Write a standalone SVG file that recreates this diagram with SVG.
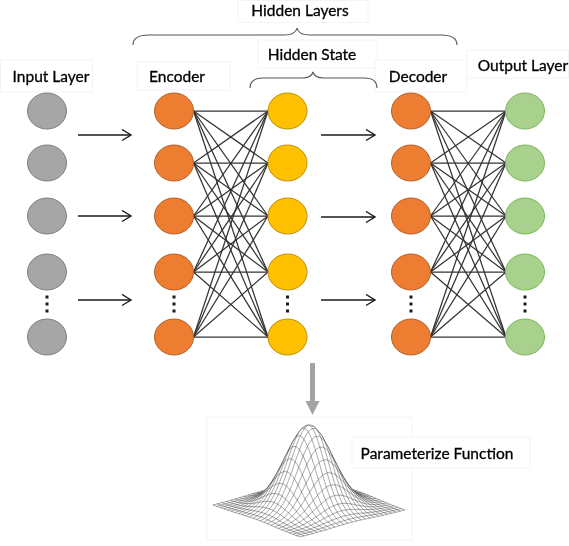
<svg xmlns="http://www.w3.org/2000/svg" xmlns:xlink="http://www.w3.org/1999/xlink" width="569" height="546" viewBox="0 0 569 546">
  <style>
    .lbl { font-family: Lato, "Liberation Sans", sans-serif; font-size: 15.5px; fill: #000; stroke: #000; stroke-width: 0.3; text-anchor: middle; }
    .box { fill: #fff; stroke: #f4f4f4; stroke-width: 1; }
    .in { fill: #a6a6a6; stroke: #808080; stroke-width: 1; }
    .enc { fill: #ed7d31; stroke: #b4612a; stroke-width: 1; }
    .hid { fill: #ffc000; stroke: #bf9000; stroke-width: 1; }
    .out { fill: #a9d18e; stroke: #7cb85a; stroke-width: 1; }
    .dot { fill: #1a1a1a; }
    .edge { stroke: #333; stroke-width: 1.25; }
    .arr { stroke: #1a1a1a; stroke-width: 1.4; fill: none; marker-end: url(#chev); }
    .brace { fill: none; stroke: #555; stroke-width: 1.1; }
    .mesh { fill: #fff; stroke: #8c8c8c; stroke-width: 0.75; }
  </style>
  <defs>
    <marker id="chev" markerUnits="userSpaceOnUse" markerWidth="14" markerHeight="14" refX="10" refY="6" orient="auto">
      <path d="M1,0.5 L10,6 L1,11.5" fill="none" stroke="#1a1a1a" stroke-width="1.4"/>
    </marker>
    <!-- unit gaussian profile exp(-4t^2), X = 100t, Y = 100g -->
    <path id="g" class="mesh" vector-effect="non-scaling-stroke" d="M-100,1.83 L-91.67,3.47 L-83.33,6.22 L-79.17,8.15 L-75,10.54 L-70.83,13.44 L-66.67,16.9 L-62.5,20.96 L-58.33,25.64 L-54.17,30.92 L-50,36.79 L-45.83,43.16 L-41.67,49.94 L-37.5,56.98 L-33.33,64.12 L-29.17,71.16 L-25,77.88 L-20.83,84.06 L-16.67,89.48 L-12.5,93.94 L-8.33,97.26 L-4.17,99.31 L0,100 L4.17,99.31 L8.33,97.26 L12.5,93.94 L16.67,89.48 L20.83,84.06 L25,77.88 L29.17,71.16 L33.33,64.12 L37.5,56.98 L41.67,49.94 L45.83,43.16 L50,36.79 L54.17,30.92 L58.33,25.64 L62.5,20.96 L66.67,16.9 L70.83,13.44 L75,10.54 L79.17,8.15 L83.33,6.22 L91.67,3.47 L100,1.83"/>
  </defs>

  <rect width="569" height="546" fill="#fff"/>

  <!-- gaussian surface wireframe -->
  <g id="surface">
    <rect class="box" x="207" y="417" width="205" height="123"/>
    <!-- lines of constant u, back to front; each fills white below itself to hide what lies behind -->
    <g>
      <use xlink:href="#g" transform="matrix(-.525 .135 0 -.0151 265.5 491.5)"/>
      <use xlink:href="#g" transform="matrix(-.525 .135 0 -.0286 269.125 492.833)"/>
      <use xlink:href="#g" transform="matrix(-.525 .135 0 -.0513 272.75 494.167)"/>
      <use xlink:href="#g" transform="matrix(-.525 .135 0 -.0870 276.375 495.5)"/>
      <use xlink:href="#g" transform="matrix(-.525 .135 0 -.1394 280 496.833)"/>
      <use xlink:href="#g" transform="matrix(-.525 .135 0 -.2115 283.625 498.167)"/>
      <use xlink:href="#g" transform="matrix(-.525 .135 0 -.3035 287.25 499.5)"/>
      <use xlink:href="#g" transform="matrix(-.525 .135 0 -.4120 290.875 500.833)"/>
      <use xlink:href="#g" transform="matrix(-.525 .135 0 -.5290 294.5 502.167)"/>
      <use xlink:href="#g" transform="matrix(-.525 .135 0 -.6425 298.125 503.5)"/>
      <use xlink:href="#g" transform="matrix(-.525 .135 0 -.7382 301.75 504.833)"/>
      <use xlink:href="#g" transform="matrix(-.525 .135 0 -.8024 305.375 506.167)"/>
      <use xlink:href="#g" transform="matrix(-.525 .135 0 -.825 309 507.5)"/>
      <use xlink:href="#g" transform="matrix(-.525 .135 0 -.8024 312.625 508.833)"/>
      <use xlink:href="#g" transform="matrix(-.525 .135 0 -.7382 316.25 510.167)"/>
      <use xlink:href="#g" transform="matrix(-.525 .135 0 -.6425 319.875 511.5)"/>
      <use xlink:href="#g" transform="matrix(-.525 .135 0 -.5290 323.5 512.833)"/>
      <use xlink:href="#g" transform="matrix(-.525 .135 0 -.4120 327.125 514.167)"/>
      <use xlink:href="#g" transform="matrix(-.525 .135 0 -.3035 330.75 515.5)"/>
      <use xlink:href="#g" transform="matrix(-.525 .135 0 -.2115 334.375 516.833)"/>
      <use xlink:href="#g" transform="matrix(-.525 .135 0 -.1394 338 518.167)"/>
      <use xlink:href="#g" transform="matrix(-.525 .135 0 -.0870 341.625 519.5)"/>
      <use xlink:href="#g" transform="matrix(-.525 .135 0 -.0513 345.25 520.833)"/>
      <use xlink:href="#g" transform="matrix(-.525 .135 0 -.0286 348.875 522.167)"/>
      <use xlink:href="#g" transform="matrix(-.525 .135 0 -.0151 352.5 523.5)"/>
    </g>
    <!-- lines of constant v, multiplied over the first family -->
    <g style="mix-blend-mode:multiply">
      <use xlink:href="#g" transform="matrix(.435 .16 0 -.0151 361.5 494)"/>
      <use xlink:href="#g" transform="matrix(.435 .16 0 -.0286 357.125 495.125)"/>
      <use xlink:href="#g" transform="matrix(.435 .16 0 -.0513 352.75 496.25)"/>
      <use xlink:href="#g" transform="matrix(.435 .16 0 -.0870 348.375 497.375)"/>
      <use xlink:href="#g" transform="matrix(.435 .16 0 -.1394 344 498.5)"/>
      <use xlink:href="#g" transform="matrix(.435 .16 0 -.2115 339.625 499.625)"/>
      <use xlink:href="#g" transform="matrix(.435 .16 0 -.3035 335.25 500.75)"/>
      <use xlink:href="#g" transform="matrix(.435 .16 0 -.4120 330.875 501.875)"/>
      <use xlink:href="#g" transform="matrix(.435 .16 0 -.5290 326.5 503)"/>
      <use xlink:href="#g" transform="matrix(.435 .16 0 -.6425 322.125 504.125)"/>
      <use xlink:href="#g" transform="matrix(.435 .16 0 -.7382 317.75 505.25)"/>
      <use xlink:href="#g" transform="matrix(.435 .16 0 -.8024 313.375 506.375)"/>
      <use xlink:href="#g" transform="matrix(.435 .16 0 -.825 309 507.5)"/>
      <use xlink:href="#g" transform="matrix(.435 .16 0 -.8024 304.625 508.625)"/>
      <use xlink:href="#g" transform="matrix(.435 .16 0 -.7382 300.25 509.75)"/>
      <use xlink:href="#g" transform="matrix(.435 .16 0 -.6425 295.875 510.875)"/>
      <use xlink:href="#g" transform="matrix(.435 .16 0 -.5290 291.5 512)"/>
      <use xlink:href="#g" transform="matrix(.435 .16 0 -.4120 287.125 513.125)"/>
      <use xlink:href="#g" transform="matrix(.435 .16 0 -.3035 282.75 514.25)"/>
      <use xlink:href="#g" transform="matrix(.435 .16 0 -.2115 278.375 515.375)"/>
      <use xlink:href="#g" transform="matrix(.435 .16 0 -.1394 274 516.5)"/>
      <use xlink:href="#g" transform="matrix(.435 .16 0 -.0870 269.625 517.625)"/>
      <use xlink:href="#g" transform="matrix(.435 .16 0 -.0513 265.25 518.75)"/>
      <use xlink:href="#g" transform="matrix(.435 .16 0 -.0286 260.875 519.875)"/>
      <use xlink:href="#g" transform="matrix(.435 .16 0 -.0151 256.5 521)"/>
    </g>
  </g>

  <!-- label boxes -->
  <g id="labels">
    <rect class="box" x="238" y="0.5" width="130" height="22"/>
    <text class="lbl" x="300" y="16">Hidden Layers</text>
    <rect class="box" x="258" y="40" width="119" height="28"/>
    <text class="lbl" x="312" y="60">Hidden State</text>
    <rect class="box" x="0.5" y="60" width="92" height="32"/>
    <text class="lbl" x="51" y="82">Input Layer</text>
    <rect class="box" x="137" y="62" width="93" height="28"/>
    <text class="lbl" x="177" y="82">Encoder</text>
    <rect class="box" x="375" y="60" width="92" height="32"/>
    <text class="lbl" x="418" y="82">Decoder</text>
    <rect class="box" x="467" y="50" width="101.5" height="28"/>
    <text class="lbl" x="523" y="71">Output Layer</text>
    <rect class="box" x="352" y="437" width="178" height="31"/>
    <text class="lbl" x="437" y="459">Parameterize Function</text>
  </g>

  <!-- braces -->
  <g id="braces">
    <path class="brace" d="M133,45 C133,38 139,35 149,35 L284,35 C292,35 296,33 297,28 C298,33 302,35 310,35 L441,35 C451,35 457,38 457,45"/>
    <path class="brace" d="M250,88 C250,81 255,78 263,78 L302,78 C309,78 312,76 313,72 C314,76 317,78 324,78 L364,78 C372,78 377,81 377,88"/>
  </g>

  <!-- connectors -->
  <g id="connectors">
    <line class="arr" x1="78" y1="135" x2="131" y2="135"/>
    <line class="arr" x1="78" y1="216" x2="131" y2="216"/>
    <line class="arr" x1="78" y1="300" x2="131" y2="300"/>
    <line class="arr" x1="321" y1="135" x2="375" y2="135"/>
    <line class="arr" x1="321" y1="217" x2="375" y2="217"/>
    <line class="arr" x1="321" y1="300" x2="375" y2="300"/>

    <!-- encoder to hidden state, fully connected -->
    <g class="edge">
      <line x1="193.5" y1="111" x2="268" y2="111"/><line x1="193.5" y1="111" x2="268" y2="163"/><line x1="193.5" y1="111" x2="268" y2="216"/><line x1="193.5" y1="111" x2="268" y2="272"/><line x1="193.5" y1="111" x2="268" y2="337"/>
      <line x1="193.5" y1="163" x2="268" y2="111"/><line x1="193.5" y1="163" x2="268" y2="163"/><line x1="193.5" y1="163" x2="268" y2="216"/><line x1="193.5" y1="163" x2="268" y2="272"/><line x1="193.5" y1="163" x2="268" y2="337"/>
      <line x1="193.5" y1="216" x2="268" y2="111"/><line x1="193.5" y1="216" x2="268" y2="163"/><line x1="193.5" y1="216" x2="268" y2="216"/><line x1="193.5" y1="216" x2="268" y2="272"/><line x1="193.5" y1="216" x2="268" y2="337"/>
      <line x1="193.5" y1="272" x2="268" y2="111"/><line x1="193.5" y1="272" x2="268" y2="163"/><line x1="193.5" y1="272" x2="268" y2="216"/><line x1="193.5" y1="272" x2="268" y2="272"/><line x1="193.5" y1="272" x2="268" y2="337"/>
      <line x1="193.5" y1="337" x2="268" y2="111"/><line x1="193.5" y1="337" x2="268" y2="163"/><line x1="193.5" y1="337" x2="268" y2="216"/><line x1="193.5" y1="337" x2="268" y2="272"/><line x1="193.5" y1="337" x2="268" y2="337"/>
    </g>
    <!-- decoder to output, fully connected -->
    <g class="edge">
      <line x1="430.5" y1="111" x2="506" y2="111"/><line x1="430.5" y1="111" x2="506" y2="163"/><line x1="430.5" y1="111" x2="506" y2="216"/><line x1="430.5" y1="111" x2="506" y2="272"/><line x1="430.5" y1="111" x2="506" y2="337"/>
      <line x1="430.5" y1="163" x2="506" y2="111"/><line x1="430.5" y1="163" x2="506" y2="163"/><line x1="430.5" y1="163" x2="506" y2="216"/><line x1="430.5" y1="163" x2="506" y2="272"/><line x1="430.5" y1="163" x2="506" y2="337"/>
      <line x1="430.5" y1="216" x2="506" y2="111"/><line x1="430.5" y1="216" x2="506" y2="163"/><line x1="430.5" y1="216" x2="506" y2="216"/><line x1="430.5" y1="216" x2="506" y2="272"/><line x1="430.5" y1="216" x2="506" y2="337"/>
      <line x1="430.5" y1="272" x2="506" y2="111"/><line x1="430.5" y1="272" x2="506" y2="163"/><line x1="430.5" y1="272" x2="506" y2="216"/><line x1="430.5" y1="272" x2="506" y2="272"/><line x1="430.5" y1="272" x2="506" y2="337"/>
      <line x1="430.5" y1="337" x2="506" y2="111"/><line x1="430.5" y1="337" x2="506" y2="163"/><line x1="430.5" y1="337" x2="506" y2="216"/><line x1="430.5" y1="337" x2="506" y2="272"/><line x1="430.5" y1="337" x2="506" y2="337"/>
    </g>

    <!-- hidden state to parameterized function -->
    <rect x="310" y="363" width="5" height="40" fill="#a3a3a3"/>
    <polygon points="305.5,401 319.5,401 312.5,415" fill="#a3a3a3"/>
  </g>

  <!-- input layer -->
  <g id="input-1"><ellipse class="in" cx="47" cy="111" rx="19.5" ry="18"/></g>
  <g id="input-2"><ellipse class="in" cx="47" cy="163" rx="19.5" ry="18"/></g>
  <g id="input-3"><ellipse class="in" cx="47" cy="216" rx="19.5" ry="18"/></g>
  <g id="input-4"><ellipse class="in" cx="47" cy="272" rx="19.5" ry="18"/></g>
  <g id="input-n"><ellipse class="in" cx="47" cy="337" rx="19.5" ry="18"/></g>

  <!-- encoder -->
  <g id="enc-1"><ellipse class="enc" cx="174" cy="111" rx="19.5" ry="18"/></g>
  <g id="enc-2"><ellipse class="enc" cx="174" cy="163" rx="19.5" ry="18"/></g>
  <g id="enc-3"><ellipse class="enc" cx="174" cy="216" rx="19.5" ry="18"/></g>
  <g id="enc-4"><ellipse class="enc" cx="174" cy="272" rx="19.5" ry="18"/></g>
  <g id="enc-n"><ellipse class="enc" cx="174" cy="337" rx="19.5" ry="18"/></g>

  <!-- hidden state -->
  <g id="hid-1"><ellipse class="hid" cx="287.5" cy="111" rx="19.5" ry="18"/></g>
  <g id="hid-2"><ellipse class="hid" cx="287.5" cy="163" rx="19.5" ry="18"/></g>
  <g id="hid-3"><ellipse class="hid" cx="287.5" cy="216" rx="19.5" ry="18"/></g>
  <g id="hid-4"><ellipse class="hid" cx="287.5" cy="272" rx="19.5" ry="18"/></g>
  <g id="hid-n"><ellipse class="hid" cx="287.5" cy="337" rx="19.5" ry="18"/></g>

  <!-- decoder -->
  <g id="dec-1"><ellipse class="enc" cx="411" cy="111" rx="19.5" ry="18"/></g>
  <g id="dec-2"><ellipse class="enc" cx="411" cy="163" rx="19.5" ry="18"/></g>
  <g id="dec-3"><ellipse class="enc" cx="411" cy="216" rx="19.5" ry="18"/></g>
  <g id="dec-4"><ellipse class="enc" cx="411" cy="272" rx="19.5" ry="18"/></g>
  <g id="dec-n"><ellipse class="enc" cx="411" cy="337" rx="19.5" ry="18"/></g>

  <!-- output layer -->
  <g id="out-1"><ellipse class="out" cx="525" cy="111" rx="19.5" ry="18"/></g>
  <g id="out-2"><ellipse class="out" cx="525" cy="163" rx="19.5" ry="18"/></g>
  <g id="out-3"><ellipse class="out" cx="525" cy="216" rx="19.5" ry="18"/></g>
  <g id="out-4"><ellipse class="out" cx="525" cy="272" rx="19.5" ry="18"/></g>
  <g id="out-n"><ellipse class="out" cx="525" cy="337" rx="19.5" ry="18"/></g>

  <!-- ellipsis dots -->
  <g id="ellipses" class="dot">
    <rect x="45.5" y="295.5" width="3" height="3"/><rect x="45.5" y="302.5" width="3" height="3"/><rect x="45.5" y="309.5" width="3" height="3"/>
    <rect x="172.5" y="295.5" width="3" height="3"/><rect x="172.5" y="302.5" width="3" height="3"/><rect x="172.5" y="309.5" width="3" height="3"/>
    <rect x="286" y="295.5" width="3" height="3"/><rect x="286" y="302.5" width="3" height="3"/><rect x="286" y="309.5" width="3" height="3"/>
    <rect x="409.5" y="295.5" width="3" height="3"/><rect x="409.5" y="302.5" width="3" height="3"/><rect x="409.5" y="309.5" width="3" height="3"/>
    <rect x="523.5" y="295.5" width="3" height="3"/><rect x="523.5" y="302.5" width="3" height="3"/><rect x="523.5" y="309.5" width="3" height="3"/>
  </g>
</svg>
